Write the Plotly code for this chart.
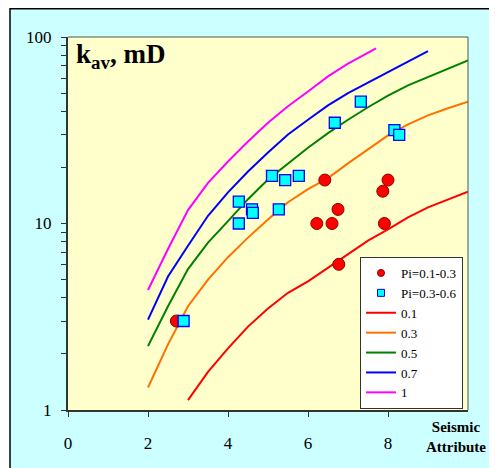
import plotly.graph_objects as go

# curves (cutoff values)
x_c01 = [3.0, 3.5, 4.0, 4.5, 5.0, 5.5, 6.0, 6.5, 7.0, 7.5, 8.0, 8.5, 9.0, 9.5, 10.0]
k_c01 = [1.13, 1.6, 2.14, 2.8, 3.5, 4.25, 4.9, 5.8, 6.9, 8.1, 9.3, 10.8, 12.2, 13.5, 14.8]

x_c03 = [2.0, 2.5, 3.0, 3.5, 4.0, 4.5, 5.0, 5.5, 6.0, 6.5, 7.0, 7.5, 8.0, 8.5, 9.0, 9.5, 10.0]
k_c03 = [1.32, 2.25, 3.6, 5.0, 6.6, 8.4, 10.5, 13.0, 15.3, 17.5, 21, 25, 29.7, 34, 38, 41.5, 45]

x_c05 = [2.0, 2.5, 3.0, 3.5, 4.0, 4.5, 5.0, 5.5, 6.0, 6.5, 7.0, 7.5, 8.0, 8.5, 9.0, 9.5, 10.0]
k_c05 = [2.2, 3.6, 5.7, 7.9, 10.3, 13.5, 17.2, 21, 25.5, 30.5, 36, 42, 48.5, 55, 61, 68, 75]

x_c07 = [2.0, 2.5, 3.0, 3.5, 4.0, 4.5, 5.0, 5.5, 6.0, 6.5, 7.0, 7.5, 8.0, 8.5, 9.0]
k_c07 = [3.05, 5.2, 7.6, 11, 14.7, 19, 24, 30, 36, 43, 50, 57, 65, 74, 84]

x_c1 = [2.0, 2.5, 3.0, 3.5, 4.0, 4.5, 5.0, 5.5, 6.0, 6.5, 7.0, 7.5, 7.7]
k_c1 = [4.4, 7.3, 11.8, 16.5, 21.5, 27.5, 34.7, 42.5, 51, 61.5, 72, 82, 87]

curve_names = ["0.1", "0.3", "0.5", "0.7", "1"]
curve_colors = ["#FF0000", "#FF7000", "#008000", "#0000FF", "#FF00FF"]

# measured points
pi1_x = [2.71, 6.42, 8.0, 7.87, 6.75, 6.22, 6.6, 7.91, 6.77]
pi1_k = [3.0, 17.1, 17.1, 14.9, 11.9, 10.0, 10.0, 10.0, 6.04]

pi2_x = [2.89, 4.27, 4.27, 4.6, 4.62, 5.1, 5.43, 5.27, 5.77, 6.67, 7.32, 8.16, 8.28]
pi2_k = [3.0, 13.1, 10.0, 11.9, 11.4, 18, 17.1, 11.9, 18, 34.7, 45, 31.7, 29.9]

x_ticks = [0, 2, 4, 6, 8]
y_ticks = [1, 2, 3, 4, 5, 6, 7, 8, 9, 10, 20, 30, 40, 50, 60, 70, 80, 90, 100]
y_ticktext = ["1", "", "", "", "", "", "", "", "", "10", "", "", "", "", "", "", "", "", "100"]

FONT = "Liberation Serif, Times New Roman, serif"

fig = go.Figure()

curves = [(x_c01, k_c01), (x_c03, k_c03), (x_c05, k_c05), (x_c07, k_c07), (x_c1, k_c1)]
for i, ((xs, ks), name, col) in enumerate(zip(curves, curve_names, curve_colors)):
    fig.add_trace(go.Scatter(x=xs, y=ks, mode="lines", name=name,
                             line=dict(color=col, width=2), legendrank=3 + i))

fig.add_trace(go.Scatter(x=pi1_x, y=pi1_k, mode="markers", showlegend=False,
                         marker=dict(symbol="circle", size=12, color="#FF0000",
                                     line=dict(color="#8B0000", width=1))))
fig.add_trace(go.Scatter(x=pi2_x, y=pi2_k, mode="markers", showlegend=False,
                         marker=dict(symbol="square", size=11, color="#00FFFF",
                                     line=dict(color="#0000FF", width=1.3))))

# legend entries for points (smaller legend symbols)
fig.add_trace(go.Scatter(x=[None], y=[None], mode="markers", name="Pi=0.1-0.3", legendrank=1,
                         marker=dict(symbol="circle", size=7, color="#FF0000",
                                     line=dict(color="#8B0000", width=1))))
fig.add_trace(go.Scatter(x=[None], y=[None], mode="markers", name="Pi=0.3-0.6", legendrank=2,
                         marker=dict(symbol="square", size=7, color="#00FFFF",
                                     line=dict(color="#0000FF", width=1))))

# the page body adds an 8px margin, so the figure is made 8px smaller
OFF = 8
W, H = 497 - OFF, 468 - OFF
ml, mr, mt, mb = 60, 29, 29, 58
pw, ph = W - ml - mr, H - mt - mb

def px(xpage):
    return (xpage - OFF - ml) / pw

def py(ypage):
    return (H - mb - (ypage - OFF)) / ph

shapes = [
    # white strip left of the outer frame
    dict(type="rect", xref="paper", yref="paper", x0=px(-5), x1=px(10), y0=py(500), y1=py(-5),
         fillcolor="white", line=dict(width=0), layer="above"),
    # outer frame lines
    dict(type="line", xref="paper", yref="paper", x0=px(10), x1=px(510), y0=py(8.7), y1=py(8.7),
         line=dict(color="black", width=1.5), layer="above"),
    dict(type="line", xref="paper", yref="paper", x0=px(10), x1=px(10), y0=py(8), y1=py(500),
         line=dict(color="black", width=1.5), layer="above"),
    # thin top/right plot border
    dict(type="line", xref="paper", yref="paper", x0=0, x1=1, y0=1, y1=1,
         line=dict(color="#555555", width=1), layer="above"),
    dict(type="line", xref="paper", yref="paper", x0=1, x1=1, y0=0, y1=1,
         line=dict(color="#555555", width=1), layer="above"),
]

fig.update_layout(
    width=W, height=H,
    margin=dict(l=ml, r=mr, t=mt, b=mb),
    paper_bgcolor="#CCFFFF",
    plot_bgcolor="#FFFFCC",
    font=dict(family=FONT, color="black", size=16),
    shapes=shapes,
    showlegend=True,
    legend=dict(x=px(360), y=py(257), xanchor="left", yanchor="top",
                bgcolor="white", bordercolor="#333333", borderwidth=1,
                font=dict(family=FONT, size=13, color="black"),
                tracegroupgap=0, itemwidth=30),
    annotations=[
        dict(xref="paper", yref="paper", x=px(74), y=py(37), xanchor="left", yanchor="top",
             text="<b>k<sub>av</sub>, mD</b>", showarrow=False,
             font=dict(family=FONT, size=27, color="black")),
        dict(xref="paper", yref="paper", x=px(456), y=py(437), xanchor="center", yanchor="middle",
             text="<b>Seismic<br>Attribute</b>", showarrow=False,
             font=dict(family=FONT, size=15, color="black")),
    ],
)

fig.update_xaxes(range=[0, 10], tickvals=x_ticks, ticks="outside", ticklen=5,
                 tickcolor="#333333", showline=True, linecolor="#333333", linewidth=2,
                 showgrid=False, zeroline=False, ticklabelstandoff=12,
                 tickfont=dict(family=FONT, size=17))
fig.update_yaxes(type="log", range=[0, 2], tickvals=y_ticks, ticktext=y_ticktext,
                 ticks="outside", ticklen=5, tickcolor="#333333", showline=True,
                 linecolor="#333333", linewidth=2, showgrid=False, zeroline=False,
                 ticklabelstandoff=6, tickfont=dict(family=FONT, size=17))

fig.write_html("out.html")
